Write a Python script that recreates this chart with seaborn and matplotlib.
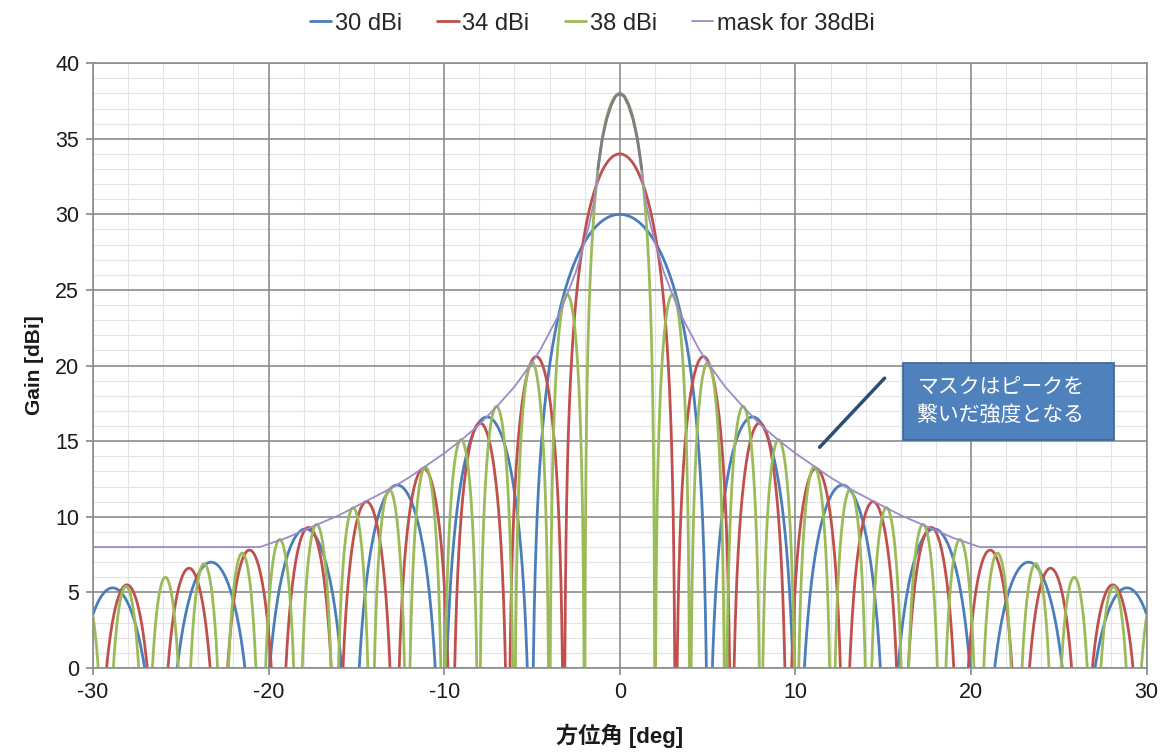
import numpy as np
import pandas as pd
import matplotlib
matplotlib.use("Agg")
import matplotlib.pyplot as plt
import seaborn as sns
from matplotlib.ticker import MultipleLocator
from matplotlib.patches import Rectangle

# values (positive side, pattern is symmetric)
series_names = ["30 dBi", "34 dBi", "38 dBi"]
series_colors = ["#4a7ebb", "#c0504d", "#9bbb59"]

# null angles [deg]
nulls_30 = [5.03, 10.10, 15.25, 20.54, 26.01, 31.75]
nulls_34 = [3.17, 6.35, 9.56, 12.79, 16.06, 19.39, 22.79, 26.27, 29.87, 33.60]
nulls_38 = [2.00, 4.00, 6.01, 8.03, 10.05, 12.09, 14.15, 16.22, 18.31, 20.43,
            22.58, 24.77, 26.99, 29.25, 31.57]

# lobe peaks [dBi]: main lobe first, then each sidelobe between nulls
peaks_30 = [30.0, 16.6, 12.1, 9.2, 7.0, 5.3]
peaks_34 = [34.0, 20.6, 16.2, 13.2, 11.0, 9.3, 7.8, 6.6, 5.5, 4.6]
peaks_38 = [38.0, 24.7, 20.2, 17.3, 15.1, 13.3, 11.8, 10.6, 9.5, 8.5,
            7.6, 6.9, 6.0, 5.4, 4.8]

# mask for 38 dBi (positive side)
mask_angle = [0, 0.25, 0.5, 0.75, 1.0, 1.25, 1.375, 1.5, 1.75, 2.0, 2.5, 3.0, 3.5,
              4.0, 4.5, 5.0, 6.0, 7.0, 8.0, 9.0, 10.0, 11.0, 12.0, 13.0, 14.0,
              15.0, 16.0, 17.0, 18.0, 19.0, 20.5, 30.0]
mask_gain = [38.0, 37.8, 37.2, 36.3, 35.0, 33.0, 31.6, 30.7, 29.3, 28.2, 26.2, 24.7,
             23.3, 22.2, 21.1, 20.2, 18.6, 17.3, 16.1, 15.1, 14.2, 13.4, 12.6,
             11.9, 11.3, 10.7, 10.1, 9.6, 9.1, 8.6, 8.0, 8.0]

x_major = [-30, -20, -10, 0, 10, 20, 30]
y_major = [0, 5, 10, 15, 20, 25, 30, 35, 40]


def lobe_pattern(nulls, peaks, theta):
    # each lobe drawn as an arch between its two nulls, scaled to its peak
    a = np.abs(theta)
    n = np.asarray(nulls)
    p = np.asarray(peaks)
    g = np.full_like(a, -60.0)
    main = a < n[0]
    t = (a[main] + n[0]) / (2 * n[0])
    g[main] = p[0] + 20 * np.log10(np.maximum(np.sin(np.pi * t), 1e-4))
    for k in range(len(n) - 1):
        sel = (a >= n[k]) & (a < n[k + 1])
        t = (a[sel] - n[k]) / (n[k + 1] - n[k])
        g[sel] = p[k + 1] + 20 * np.log10(np.maximum(np.sin(np.pi * t), 1e-4))
    return np.maximum(g, -60.0)


theta = np.linspace(-30, 30, 12001)
m_a = np.asarray(mask_angle)
m_g = np.asarray(mask_gain)
mask_x = np.concatenate([-m_a[::-1], m_a[1:]])
mask_y = np.concatenate([m_g[::-1], m_g[1:]])

sns.set_theme(style="white")
plt.rcParams['font.family'] = ['Liberation Sans', 'Noto Sans CJK JP', 'DejaVu Sans']
plt.rcParams['axes.unicode_minus'] = False

fig, ax = plt.subplots(figsize=(11.7, 7.52), dpi=100)
fig.subplots_adjust(left=0.0795, right=0.980, top=0.916, bottom=0.1117)

for name, col, nl, pk in zip(series_names, series_colors,
                             [nulls_30, nulls_34, nulls_38],
                             [peaks_30, peaks_34, peaks_38]):
    sns.lineplot(x=theta, y=lobe_pattern(nl, pk, theta), color=col, lw=2.0,
                 label=name, ax=ax, sort=False, estimator=None)

sns.lineplot(x=mask_x, y=mask_y, color="#9a8cc8", lw=1.3, label="mask for 38dBi",
             ax=ax, sort=False, estimator=None)
top = np.abs(mask_x) <= 1.25
sns.lineplot(x=mask_x[top], y=mask_y[top], color="#7f7f7f", lw=2.0, ax=ax,
             sort=False, estimator=None, legend=False)

ax.set_xlim(-30, 30)
ax.set_ylim(0, 40)
ax.set_xticks(x_major)
ax.set_yticks(y_major)
ax.xaxis.set_minor_locator(MultipleLocator(2))
ax.yaxis.set_minor_locator(MultipleLocator(1))
ax.grid(which="minor", color="#e3e3e3", lw=0.8)
ax.set_axisbelow(True)
# major grid drawn above the minor one so it stays solid
for v in x_major:
    ax.axvline(v, color="#8c8c8c", lw=1.2, zorder=0.8)
for v in y_major:
    ax.axhline(v, color="#8c8c8c", lw=1.2, zorder=0.8)
for s in ax.spines.values():
    s.set_color("#8c8c8c")
    s.set_linewidth(1.2)
ax.tick_params(axis="both", which="major", labelsize=15.5, length=5, color="#8c8c8c",
               labelcolor="#1a1a1a", direction="out", bottom=True, left=True, pad=5)
ax.tick_params(which="minor", length=0)

ax.set_xlabel("方位角 [deg]", fontsize=16, fontweight="bold", labelpad=15, color="#1a1a1a")
ax.set_ylabel("Gain [dBi]", fontsize=15, fontweight="bold", labelpad=8, color="#1a1a1a")

ax.legend(loc="lower center", bbox_to_anchor=(0.474, 1.02), ncol=4, frameon=False,
          fontsize=17, handlelength=0.9, handletextpad=0.15, columnspacing=1.5,
          borderaxespad=0.3)

# annotation box with pointer line
ax.plot([15.08, 11.38], [19.17, 14.6], color="#2c4d75", lw=2.5)
ax.add_patch(Rectangle((16.1, 15.1), 12.05, 5.1, fc="#4f81bd", ec="#3a6595",
                       lw=1.2, zorder=5))
ax.text(16.95, 17.65, "マスクはピークを\n繋いだ強度となる", color="white", fontsize=15,
        va="center", ha="left", linespacing=1.3, zorder=6,
        family=['Noto Sans CJK JP', 'DejaVu Sans'])

fig.savefig("out.png", dpi=100)
